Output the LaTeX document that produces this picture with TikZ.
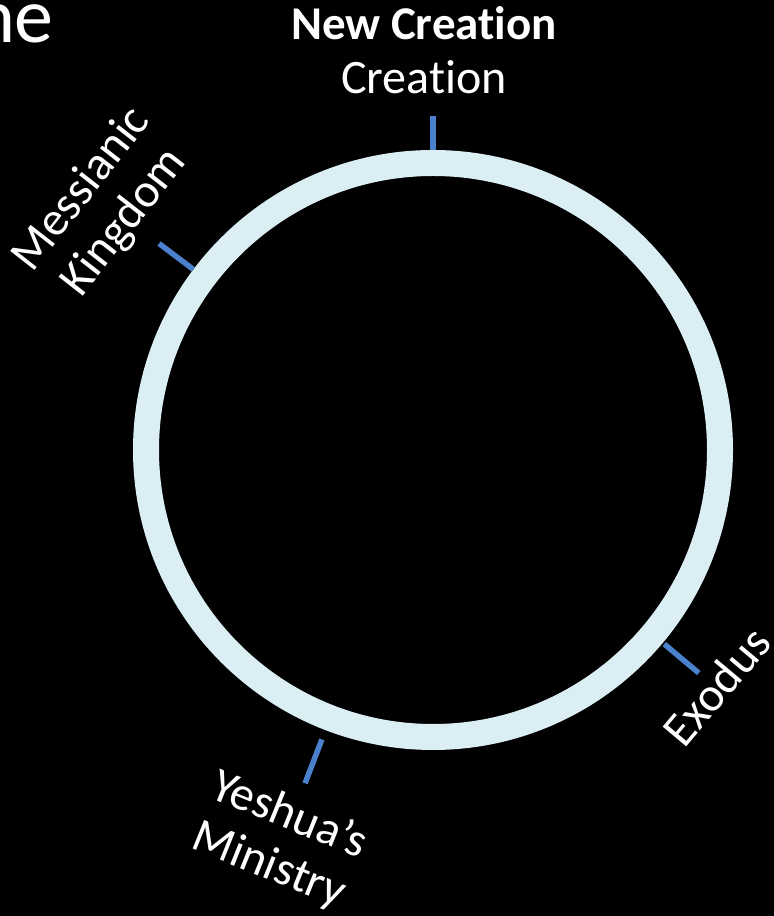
\documentclass[tikz,border=0pt]{standalone}
\usepackage{fontspec}
\setmainfont{Carlito}[Ligatures={NoCommon}]
\definecolor{ringblue}{HTML}{DAEEF3}
\definecolor{tickblue}{HTML}{4A80CC}
\begin{document}
\begin{tikzpicture}[x=1pt,y=1pt,
  lbl/.style={text=white,font=\fontsize{48}{54}\selectfont,align=center,inner sep=0pt},
  tick/.style={draw=tickblue,line width=5.5pt}]
\fill[black] (0,0) rectangle (774,916);
\useasboundingbox (0,0) rectangle (774,916);
\clip (0,0) rectangle (774,916);
\coordinate (c) at (433,466);
% ring
\draw[ringblue,line width=26pt] (c) circle[radius=287];
% title fragment
\node[text=white,font=\fontsize{78}{80}\selectfont,anchor=base east,inner sep=0pt] (title) at (54,873) {ne};
% top labels
\node[lbl,anchor=base,font=\fontsize{47}{54}\selectfont\bfseries] (nc) at (424,876) {New Creation};
\node[lbl,anchor=base] (cr) at (424,822) {Creation};
% ticks
\coordinate (t1a) at ([shift={(90:300)}]c);
\coordinate (t1b) at ([shift={(90:334)}]c);
\coordinate (t2a) at ([shift={(143:300)}]c);
\coordinate (t2b) at ([shift={(143:343)}]c);
\coordinate (t3a) at ([shift={(-40:302)}]c);
\coordinate (t3b) at ([shift={(-40:347)}]c);
\coordinate (t4a) at ([shift={(-111:310)}]c);
\coordinate (t4b) at ([shift={(-111:357)}]c);
\draw[tick] (t1a) -- (t1b);
\draw[tick] (t2a) -- (t2b);
\draw[tick] (t3a) -- (t3b);
\draw[tick] (t4a) -- (t4b);
% rotated labels
\node[lbl,rotate=52] (mk) at ([shift={(143.5:410)}]c) {Messianic\\Kingdom};
\node[lbl,rotate=50] (ex) at ([shift={(-39.8:369)}]c) {Exodus};
\node[lbl,rotate=-22] (ye) at ([shift={(-111.5:420)}]c) {Yeshua’s\\Ministry};
\end{tikzpicture}
\end{document}
